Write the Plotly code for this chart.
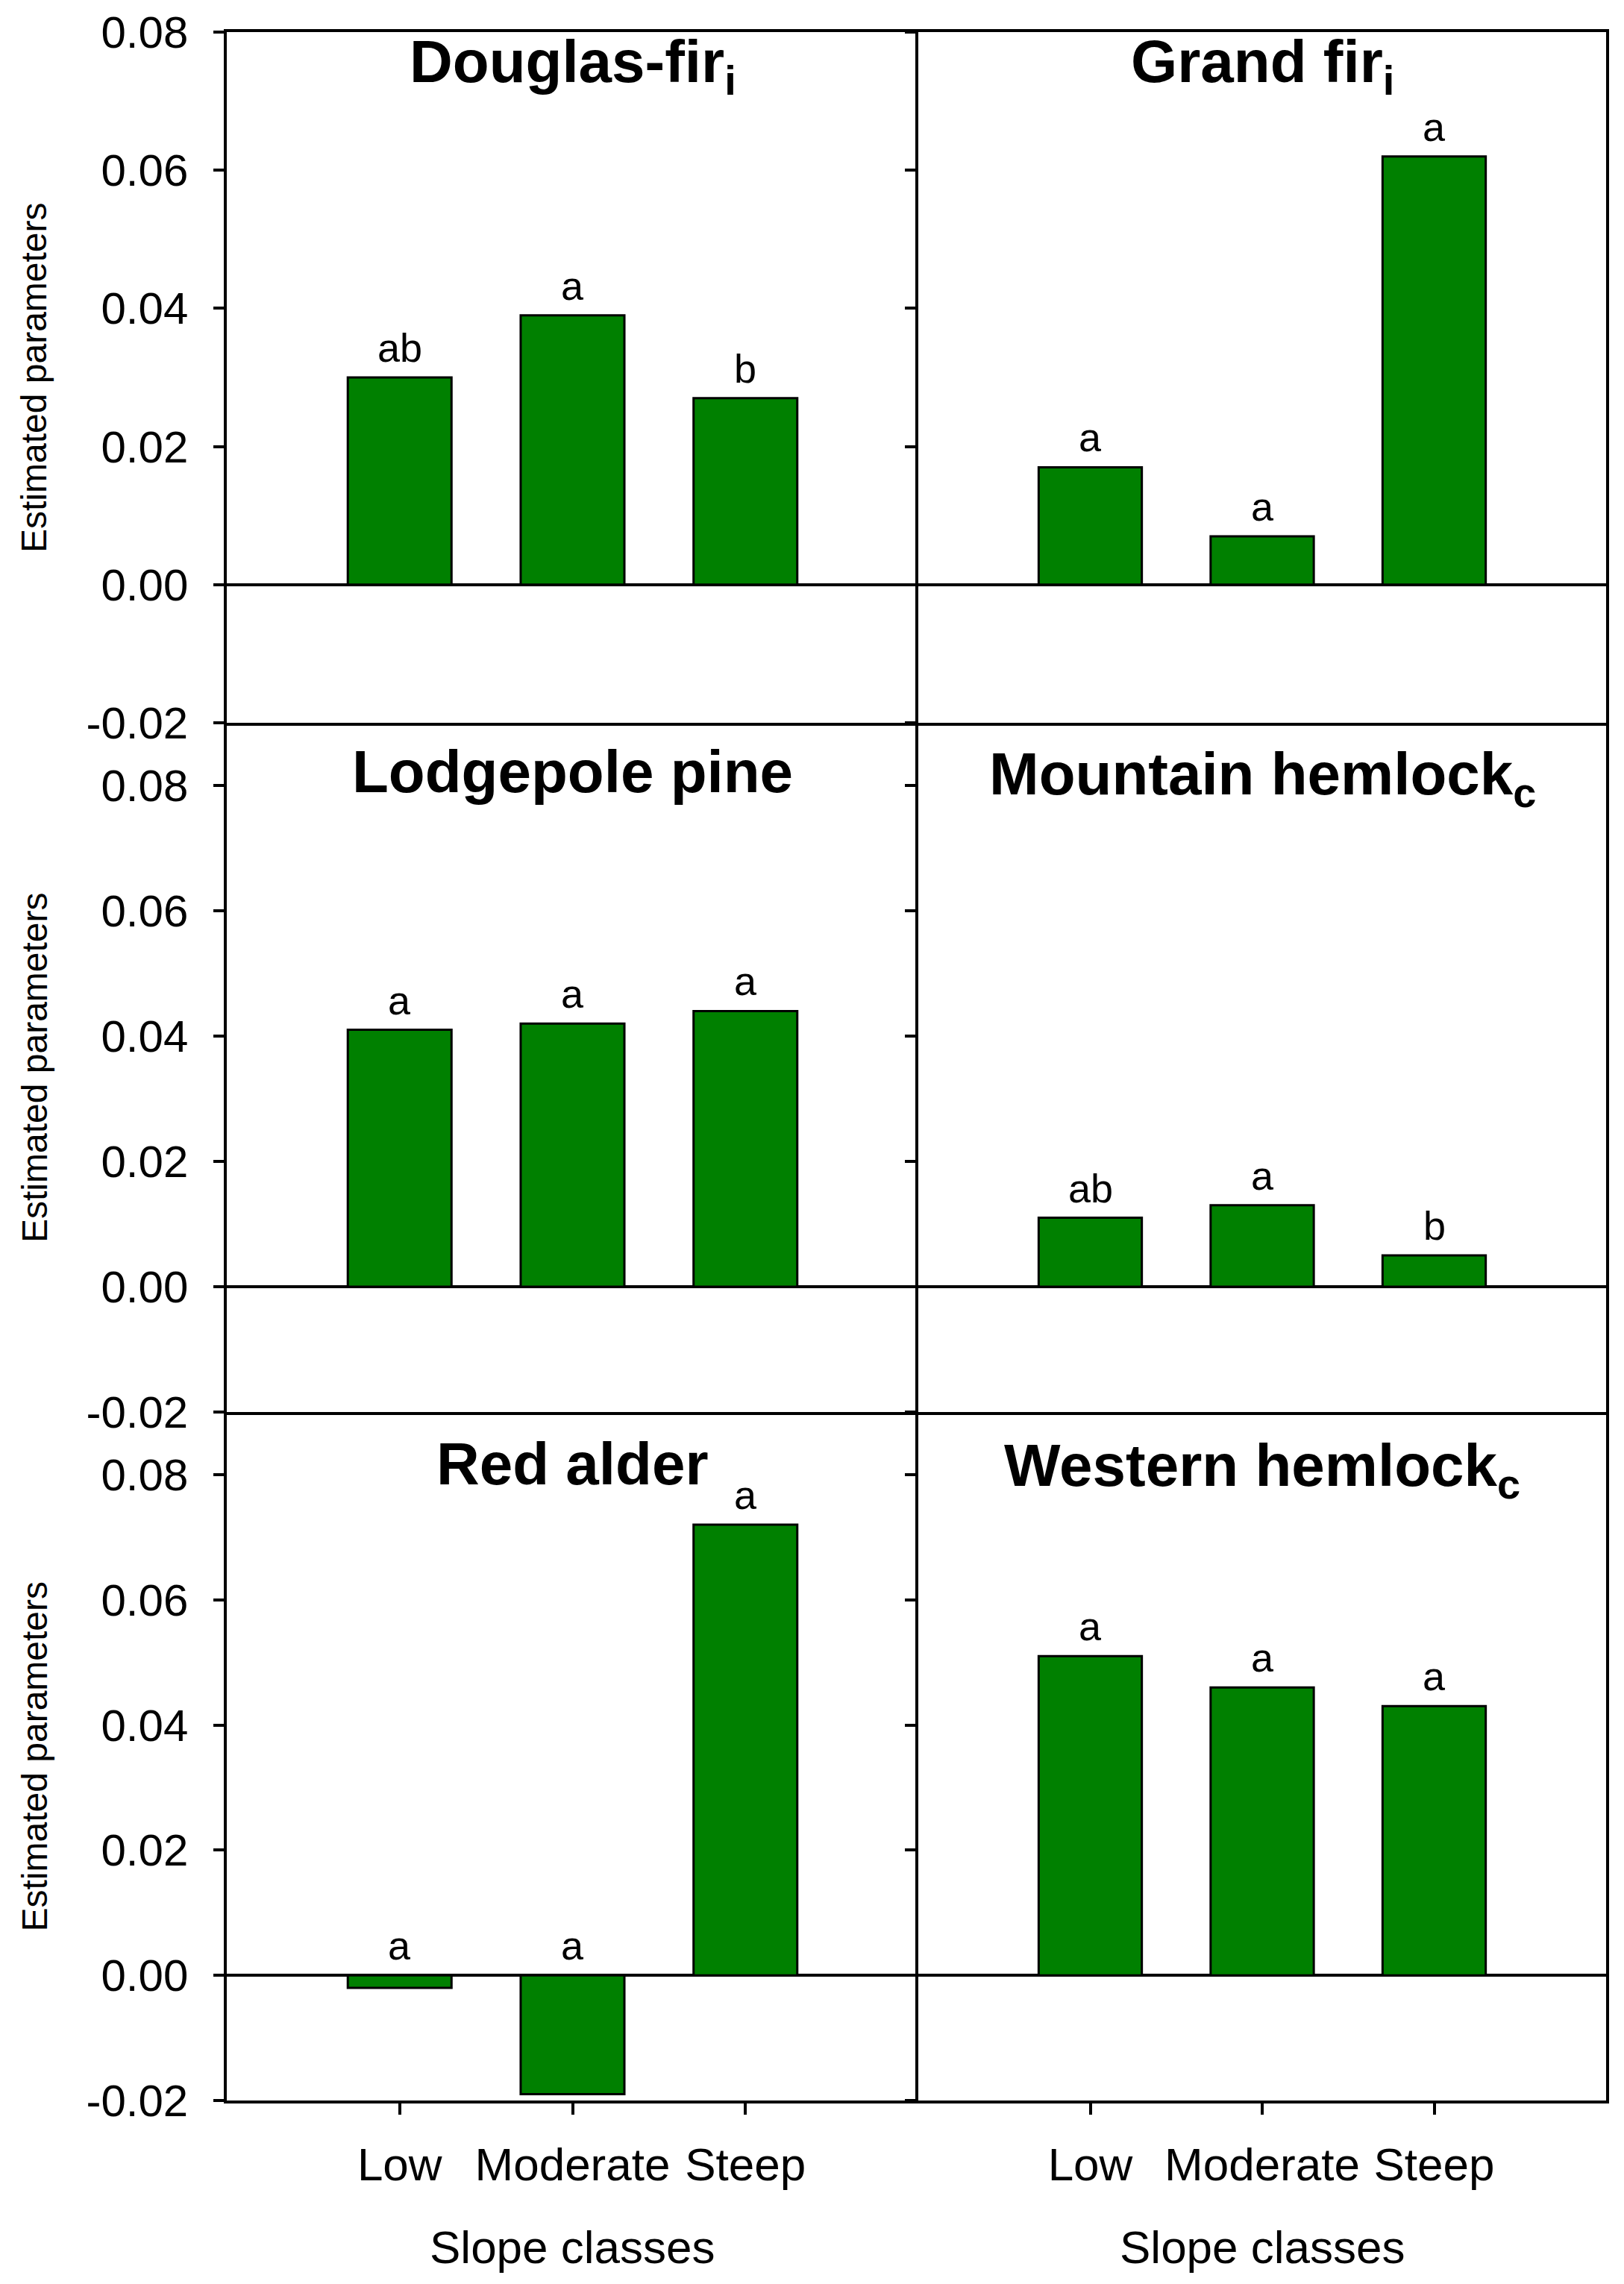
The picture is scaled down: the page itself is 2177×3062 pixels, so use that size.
import plotly.graph_objects as go

W, H = 2177, 3062
OFF = 8  # page body margin offset

categories = ["Low", "Moderate", "Steep"]
species = ["Douglas-fir<sub>i</sub>", "Grand fir<sub>i</sub>", "Lodgepole pine",
           "Mountain hemlock<sub>c</sub>", "Red alder", "Western hemlock<sub>c</sub>"]
douglas_fir = [0.030, 0.039, 0.027]
grand_fir = [0.017, 0.007, 0.062]
lodgepole_pine = [0.041, 0.042, 0.044]
mountain_hemlock = [0.011, 0.013, 0.005]
red_alder = [-0.002, -0.019, 0.072]
western_hemlock = [0.051, 0.046, 0.043]
series = [douglas_fir, grand_fir, lodgepole_pine, mountain_hemlock, red_alder, western_hemlock]

douglas_fir_letters = ["ab", "a", "b"]
grand_fir_letters = ["a", "a", "a"]
lodgepole_pine_letters = ["a", "a", "a"]
mountain_hemlock_letters = ["ab", "a", "b"]
red_alder_letters = ["a", "a", "a"]
western_hemlock_letters = ["a", "a", "a"]
letters = [douglas_fir_letters, grand_fir_letters, lodgepole_pine_letters,
           mountain_hemlock_letters, red_alder_letters, western_hemlock_letters]

y_tickvals = [-0.02, 0.0, 0.02, 0.04, 0.06, 0.08]
y_ticktext = ["-0.02", "0.00", "0.02", "0.04", "0.06", "0.08"]
row_ymax = [0.08, 0.09, 0.09]
y_label = "Estimated parameters"
x_label = "Slope classes"

FONT = "Liberation Sans, Arial, sans-serif"
LW = 3.5

def px_x(p):
    return (p - OFF) / W

def px_y(p):
    return 1 - (p - OFF) / H

col_px = [(304, 1231), (1231, 2153)]
row_px = [(43, 969), (969, 1893), (1893, 2816)]
title_px = [[88, 88], [1035, 1043], [1962, 1970]]

fig = go.Figure()
layout = dict(
    width=W, height=H,
    margin=dict(l=0, r=0, t=0, b=0, pad=0, autoexpand=False),
    paper_bgcolor="white", plot_bgcolor="white",
    showlegend=False,
    font=dict(family=FONT, color="black"),
    template="none",
)
annotations = []

for i in range(6):
    r, c = divmod(i, 2)
    n = i + 1
    xa = "xaxis" if n == 1 else f"xaxis{n}"
    ya = "yaxis" if n == 1 else f"yaxis{n}"
    xr = "x" if n == 1 else f"x{n}"
    yr = "y" if n == 1 else f"y{n}"
    fig.add_trace(go.Bar(
        x=list(range(len(categories))), y=series[i], width=0.6,
        marker=dict(color="#008000", line=dict(color="black", width=3)),
        xaxis=xr, yaxis=yr, hoverinfo="skip",
    ))
    bottom = (r == 2)
    layout[xa] = dict(
        domain=[px_x(col_px[c][0]), px_x(col_px[c][1])],
        anchor=yr, range=[-1, 3], automargin=False,
        showline=True, linecolor="black", linewidth=LW, mirror=(r == 0),
        showgrid=False, zeroline=False,
        tickmode="array", tickvals=list(range(len(categories))),
        ticktext=categories,
        ticks="outside" if bottom else "",
        ticklen=15, tickwidth=LW, tickcolor="black",
        showticklabels=bottom, ticklabelstandoff=14,
        tickfont=dict(size=62, family=FONT, color="black"),
    )
    layout[ya] = dict(
        domain=[px_y(row_px[r][1]), px_y(row_px[r][0])],
        anchor=xr, range=[-0.02, row_ymax[r]], automargin=False,
        showline=True, linecolor="black", linewidth=LW, mirror=(c == 1),
        showgrid=False,
        zeroline=True, zerolinecolor="black", zerolinewidth=LW,
        tickmode="array", tickvals=y_tickvals, ticktext=y_ticktext,
        ticks="outside", ticklen=14, tickwidth=LW, tickcolor="black",
        showticklabels=(c == 0), ticklabelstandoff=22,
        tickfont=dict(size=60, family=FONT, color="black"),
    )
    # panel title
    annotations.append(dict(
        text=f"<b>{species[i]}</b>", xref=f"{xr} domain", yref="paper",
        x=0.5, y=px_y(title_px[r][c]), xanchor="center", yanchor="middle",
        showarrow=False, font=dict(size=80, family=FONT, color="black"),
    ))
    # significance letters
    for k, v in enumerate(series[i]):
        annotations.append(dict(
            text=letters[i][k], xref=xr, yref=yr, x=k, y=max(v, 0),
            xanchor="center", yanchor="bottom", yshift=8, showarrow=False,
            font=dict(size=54, family=FONT, color="black"),
        ))
    if c == 0:
        annotations.append(dict(
            text=y_label, xref="paper", yref="paper", x=px_x(46),
            y=px_y((row_px[r][0] + row_px[r][1]) / 2), textangle=-90,
            xanchor="center", yanchor="middle", showarrow=False,
            font=dict(size=48, family=FONT, color="black"),
        ))
    if bottom:
        annotations.append(dict(
            text=x_label, xref=f"{xr} domain", yref="paper", x=0.5,
            y=px_y(3012), xanchor="center", yanchor="middle", showarrow=False,
            font=dict(size=62, family=FONT, color="black"),
        ))

layout["annotations"] = annotations
fig.update_layout(**layout)
fig.write_html("out.html")
